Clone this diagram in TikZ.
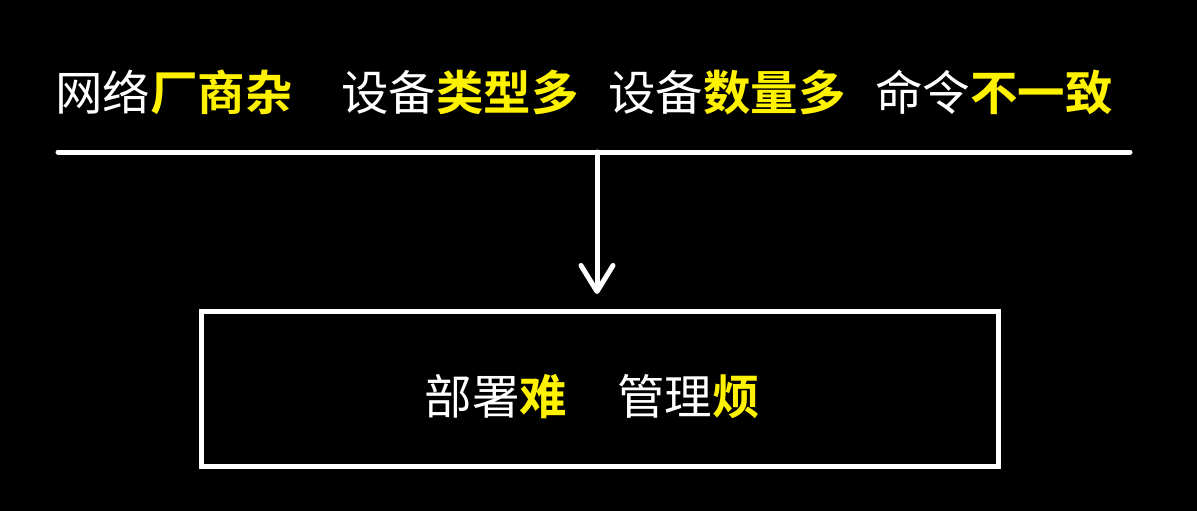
\documentclass[tikz,border=0pt]{standalone}
\usepackage{fontspec}
\newfontfamily\cjk{Noto Sans CJK SC}
\newfontfamily\cjkbold{Noto Sans CJK SC Bold}
\usetikzlibrary{arrows.meta}
\definecolor{hl}{RGB}{255,242,0}
\begin{document}
\begin{tikzpicture}[x=1pt,y=-1pt,
  lbl/.style={anchor=west,inner sep=0pt,text=white,font=\cjk\fontsize{47.5}{50}\selectfont},
  wline/.style={white,line width=5pt,line cap=round,line join=round}]
\fill[black] (0,0) rectangle (1197,511);
\useasboundingbox (0,0) rectangle (1197,511);
\newcommand\hlt[1]{{\cjkbold\color{hl}#1}}
\node[lbl] (t1) at (55,92) {网络\hlt{厂商杂}};
\node[lbl] (t2) at (341,92) {设备\hlt{类型多}};
\node[lbl] (t3) at (608,92) {设备\hlt{数量多}};
\node[lbl] (t4) at (875,92) {命令\hlt{不一致}};
\coordinate (ll) at (58,152);
\coordinate (lr) at (1130,152);
\coordinate (top) at (597,152);
\draw[wline] (ll) -- (lr);
\node[draw=white,line width=5pt,minimum width=797pt,minimum height=155pt,inner sep=0pt] (box) at (599.5,389) {};
\node[lbl,anchor=center] (b) at (592,397) {部署\hlt{难}\hspace{50pt}管理\hlt{烦}};
\draw[wline,-{Straight Barb[length=26pt,width=32pt,line cap=round,line join=round]},shorten >=15pt] (top) -- (top |- box.north);
\end{tikzpicture}
\end{document}
